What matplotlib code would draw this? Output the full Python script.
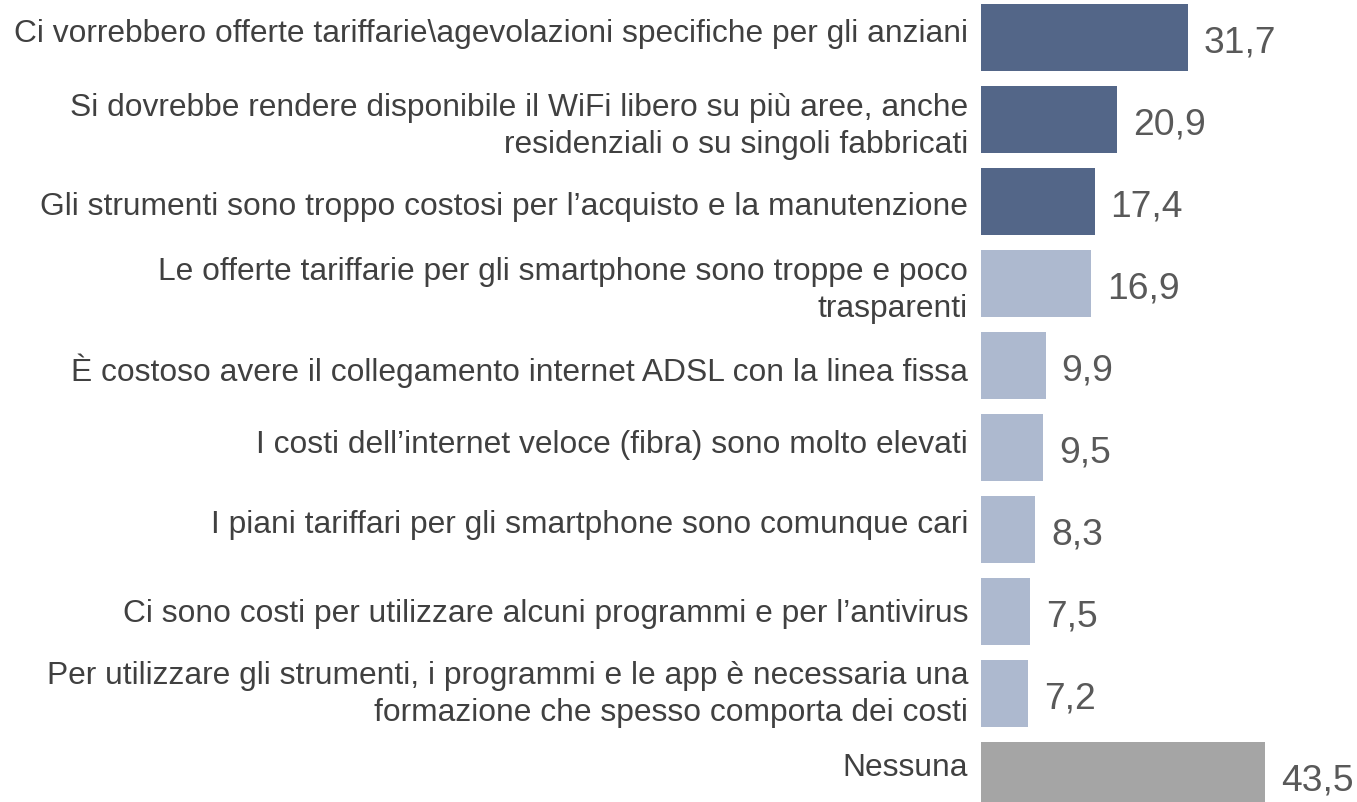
import matplotlib
matplotlib.use("Agg")
import matplotlib.pyplot as plt

categories = [
    "Ci vorrebbero offerte tariffarie\\agevolazioni specifiche per gli anziani",
    "Si dovrebbe rendere disponibile il WiFi libero su più aree, anche\nresidenziali o su singoli fabbricati",
    "Gli strumenti sono troppo costosi per l\u2019acquisto e la manutenzione",
    "Le offerte tariffarie per gli smartphone sono troppe e poco\ntrasparenti",
    "È costoso avere il collegamento internet ADSL con la linea fissa",
    "I costi dell\u2019internet veloce (fibra) sono molto elevati",
    "I piani tariffari per gli smartphone sono comunque cari",
    "Ci sono costi per utilizzare alcuni programmi e per l\u2019antivirus",
    "Per utilizzare gli strumenti, i programmi e le app è necessaria una\nformazione che spesso comporta dei costi",
    "Nessuna",
]
values = [31.7, 20.9, 17.4, 16.9, 9.9, 9.5, 8.3, 7.5, 7.2, 43.5]
value_labels = ["31,7", "20,9", "17,4", "16,9", "9,9", "9,5", "8,3", "7,5", "7,2", "43,5"]
groups = ["dark", "dark", "dark", "light", "light", "light", "light", "light", "light", "gray"]

palette = {"dark": "#536688", "light": "#ADB9CF", "gray": "#A5A5A5"}
# per-label nudges of the last line's baseline (pixels below bar centre), layout only
label_nudge_px = [3.5, 32.5, 12.5, 33, 15, 4.5, 3, 9.5, 26.5, 0]

W, H = 1357, 803
fig = plt.figure(figsize=(W / 100, H / 100), dpi=100)
plt.rcParams["font.family"] = ["Liberation Sans", "DejaVu Sans"]

x0_px = 981
px_per_unit = (1188 - 981) / 31.7
pitch = 82.0
c0 = 38.5
ax = fig.add_axes([x0_px / W, 0, 1 - x0_px / W, 1])
ax.set_xlim(0, (W - x0_px) / px_per_unit)
ax.set_ylim((H - c0) / pitch, -c0 / pitch)
ax.axis("off")

ypos = list(range(len(values)))
ax.barh(ypos, values, height=67 / pitch,
        color=[palette[g] for g in groups], clip_on=True)

PT = 0.72  # points per pixel at dpi 100
for y, v, lab, cat, nd in zip(ypos, values, value_labels, categories, label_nudge_px):
    ax.annotate(lab, xy=(v, y), xytext=(16 * PT, -14.5 * PT),
                textcoords="offset points", ha="left", va="baseline",
                fontsize=26.8, color="#595959")
    ax.annotate(cat, xy=(0, y), xytext=(-13 * PT, -nd * PT),
                textcoords="offset points", ha="right", va="baseline",
                fontsize=22.9, color="#404040", linespacing=1.32,
                multialignment="right", annotation_clip=False)

fig.savefig("out.png", dpi=100)
